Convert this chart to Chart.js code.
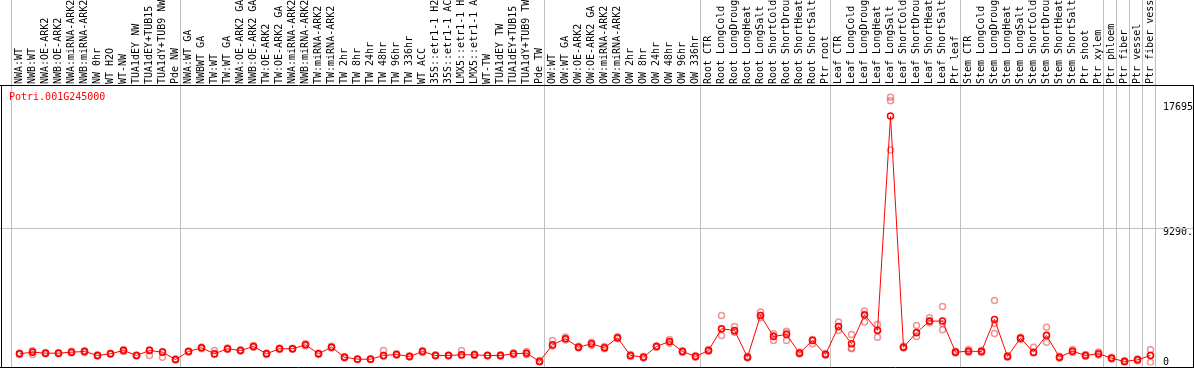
<!DOCTYPE html>
<html>
<head>
<meta charset="utf-8">
<script src="https://cdn.jsdelivr.net/npm/chart.js@4.4.1/dist/chart.umd.min.js"></script>
<style>
  html, body { margin: 0; padding: 0; background: #fff; }
  #wrap { width: 1194px; height: 370px; }
</style>
</head>
<body>
<div id="wrap"><canvas id="c" width="1194" height="370"></canvas></div>
<script>
// Potri.001G245000 — ekspresija pa paraugiem (vidējais + atkārtojumi)
const geneId = 'Potri.001G245000';

const samples = [
  'NWA:WT', 'NWB:WT', 'NWA:OE-ARK2', 'NWB:OE-ARK2', 'NWA:miRNA-ARK2', 'NWB:miRNA-ARK2',
  'NW 0hr', 'WT H2O', 'WT-NW', 'TUA1dEY NW', 'TUA1dEY+TUB15', 'TUA1dY+TUB9 NW', 'Pde NW',
  'NWA:WT GA', 'NWBWT GA', 'TW:WT', 'TW:WT GA', 'NWA:OE-ARK2 GA', 'NWB:OE-ARK2 GA',
  'TW:OE-ARK2', 'TW:OE-ARK2 GA', 'NWA:miRNA-ARK2', 'NWB:miRNA-ARK2', 'TW:miRNA-ARK2',
  'TW:miRNA-ARK2', 'TW 2hr', 'TW 8hr', 'TW 24hr', 'TW 48hr', 'TW 96hr', 'TW 336hr',
  'WT ACC', '35S::etr1-1 H2O', '35S::etr1-1 ACC', 'LMX5::etr1-1 H2O', 'LMX5::etr1-1 ACC',
  'WT-TW', 'TUA1dEY TW', 'TUA1dEY+TUB15', 'TUA1dY+TUB9 TW', 'Pde TW',
  'OW:WT', 'OW:WT GA', 'OW:OE-ARK2', 'OW:OE-ARK2 GA', 'OW:miRNA-ARK2', 'OW:miRNA-ARK2',
  'OW 2hr', 'OW 8hr', 'OW 24hr', 'OW 48hr', 'OW 96hr', 'OW 336hr',
  'Root CTR', 'Root LongCold', 'Root LongDrought', 'Root LongHeat', 'Root LongSalt',
  'Root ShortCold', 'Root ShortDrought', 'Root ShortHeat', 'Root ShortSalt', 'Ptr root',
  'Leaf CTR', 'Leaf LongCold', 'Leaf LongDrought', 'Leaf LongHeat', 'Leaf LongSalt',
  'Leaf ShortCold', 'Leaf ShortDrought', 'Leaf ShortHeat', 'Leaf ShortSalt', 'Ptr leaf',
  'Stem CTR', 'Stem LongCold', 'Stem LongDrought', 'Stem LongHeat', 'Stem LongSalt',
  'Stem ShortCold', 'Stem ShortDrought', 'Stem ShortHeat', 'Stem ShortSalt',
  'Ptr shoot', 'Ptr xylem', 'Ptr phloem', 'Ptr fiber', 'Ptr vessel', 'Ptr fiber vessel'
];

const meanExpr = [
  604, 715, 645, 645, 715, 763, 486, 604, 833, 486,
  833, 715, 208, 763, 1020, 604, 951, 833, 1110, 604,
  951, 951, 1228, 604, 1062, 368, 229, 229, 486, 555,
  416, 763, 486, 486, 534, 534, 486, 486, 604, 645,
  69, 1228, 1645, 1062, 1298, 1020, 1714, 486, 368, 1110,
  1457, 763, 416, 833, 2339, 2221, 368, 3261, 1804, 1943,
  645, 1527, 555, 2498, 1298, 3296, 2221, 17070, 1062, 2061,
  2866, 2866, 715, 784, 763, 2984, 416, 1686, 715, 1874,
  368, 784, 486, 604, 298, 69, 187, 486
];

const rep1 = [
  650, 800, 690, 680, 780, 820, 530, 640, 900, 520,
  880, 760, 240, 800, 1080, 833, 1000, 880, 1180, 650,
  1000, 990, 1300, 650, 1120, 420, 260, 260, 833, 600,
  460, 830, 530, 520, 833, 580, 520, 530, 680, 760,
  130, 1527, 1760, 1120, 1400, 1100, 1780, 560, 420, 1160,
  1600, 820, 480, 900, 3261, 2498, 430, 3492, 1991, 2172,
  720, 1600, 620, 2797, 1943, 3560, 2637, 18370, 1120, 2568,
  3100, 3886, 780, 900, 850, 4302, 480, 1750, 1062, 2450,
  440, 900, 560, 720, 360, 130, 260, 881
];

const rep2 = [
  560, 555, 600, 610, 650, 700, 440, 570, 760, 450,
  486, 368, 180, 720, 960, 560, 900, 790, 1050, 560,
  900, 910, 1160, 560, 1000, 320, 200, 200, 420, 510,
  380, 700, 450, 450, 480, 490, 450, 440, 540, 540,
  20, 1150, 1560, 1000, 1200, 950, 1650, 420, 320, 1050,
  1330, 700, 360, 780, 1874, 2100, 320, 3100, 1527, 1527,
  580, 1298, 500, 2221, 951, 2797, 1756, 14711, 1000, 1804,
  2750, 2269, 650, 700, 700, 2012, 360, 1600, 650, 1409,
  300, 700, 420, 520, 240, 10, 120, 21
];

const rep3 = [
  600, 790, 640, 650, 720, 770, 490, 600, 840, 490,
  850, 740, 210, 770, 1020, 600, 950, 830, 1100, 600,
  950, 950, 1230, 600, 1060, 370, 230, 230, 480, 550,
  420, 760, 490, 490, 530, 530, 490, 490, 600, 650,
  70, 1200, 1640, 1060, 1300, 1020, 1710, 490, 370, 1110,
  1450, 760, 420, 830, 2300, 2150, 370, 3250, 1850, 2050,
  650, 1560, 550, 2480, 1000, 3350, 2250, 18130, 1060, 2100,
  2850, 2700, 720, 780, 760, 2700, 420, 1700, 700, 1900,
  370, 780, 480, 600, 300, 70, 190, 500
];

const yTickValues = [0, 9290, 17695];
const yTickLabels = ['0', ['', '9290.'], '17695'];
// pelēkā līnija tiek vilkta aiz šiem paraugu indeksiem (-1 = pirms pirmā)
const groupBreaks = [-1, 12, 40, 52, 62, 72, 83, 84, 85, 86, 87];

const MONO = '"DejaVu Sans Mono", monospace';

const framePlugin = {
  id: 'frame',
  beforeDatasetsDraw(chart) {
    const {ctx, scales: {x, y}, chartArea, width, height} = chart;
    const half = (x.getPixelForValue(1) - x.getPixelForValue(0)) / 2;
    const top = Math.round(chartArea.top) + 0.5;
    const bot = height - 2.5;
    ctx.save();
    ctx.lineWidth = 1;
    ctx.strokeStyle = '#c0c0c0';
    ctx.beginPath();
    groupBreaks.forEach(function (i) {
      const px = Math.round(x.getPixelForValue(i) + half - 2) + 0.5;
      ctx.moveTo(px, 0);
      ctx.lineTo(px, bot);
    });
    const gy = Math.round(y.getPixelForValue(yTickValues[1])) + 0.5;
    ctx.moveTo(0, gy);
    ctx.lineTo(width, gy);
    ctx.stroke();

    ctx.strokeStyle = '#000';
    ctx.beginPath();
    ctx.moveTo(0, top); ctx.lineTo(width, top);
    ctx.moveTo(0, bot); ctx.lineTo(width, bot);
    ctx.moveTo(1.5, top); ctx.lineTo(1.5, bot);
    ctx.moveTo(width - 0.5, top); ctx.lineTo(width - 0.5, bot);
    ctx.stroke();

    ctx.fillStyle = '#ff0000';
    ctx.font = '10px ' + MONO;
    ctx.textBaseline = 'alphabetic';
    ctx.textAlign = 'left';
    ctx.fillText(geneId, 9, 100);
    ctx.restore();
  }
};

const repStyle = {
  showLine: false,
  pointRadius: 3,
  pointHoverRadius: 3,
  pointBorderWidth: 1.5,
  pointBorderColor: 'rgba(230, 60, 60, 0.55)',
  pointBackgroundColor: 'rgba(0,0,0,0)'
};

const noPad = function (s) {
  s.paddingTop = 0; s.paddingBottom = 0; s.paddingLeft = 0; s.paddingRight = 0;
};

new Chart(document.getElementById('c'), {
  type: 'line',
  data: {
    labels: samples,
    datasets: [
      {
        label: 'mean', data: meanExpr,
        borderColor: '#ff0000', borderWidth: 1, tension: 0,
        pointRadius: 3, pointHoverRadius: 3, pointBorderWidth: 1.5,
        pointBorderColor: '#ff0000', pointBackgroundColor: 'rgba(0,0,0,0)'
      },
      Object.assign({label: 'rep1', data: rep1}, repStyle),
      Object.assign({label: 'rep2', data: rep2}, repStyle),
      Object.assign({label: 'rep3', data: rep3}, repStyle)
    ]
  },
  options: {
    responsive: false,
    animation: false,
    devicePixelRatio: 1,
    layout: {padding: {left: 13, right: 0, top: 0, bottom: 2}},
    plugins: {legend: {display: false}, tooltip: {enabled: false}, title: {display: false}},
    scales: {
      x: {
        type: 'category',
        position: 'top',
        offset: true,
        afterFit: function (s) { s.height = 85; noPad(s); },
        grid: {display: false, drawTicks: false},
        border: {display: false},
        ticks: {
          autoSkip: false, minRotation: 90, maxRotation: 90,
          padding: 1, labelOffset: 12, color: '#000',
          font: {family: MONO, size: 10}
        }
      },
      y: {
        position: 'right',
        min: -208, max: 19222,
        afterFit: function (s) { s.width = 37; noPad(s); },
        afterBuildTicks: function (s) {
          s.ticks = yTickValues.map(function (v) { return {value: v}; });
        },
        grid: {display: false, drawTicks: false},
        border: {display: false},
        ticks: {
          padding: 6, color: '#000',
          font: {family: MONO, size: 10, lineHeight: 0.8},
          callback: function (v) {
            const k = yTickValues.indexOf(v);
            return k >= 0 ? yTickLabels[k] : '';
          }
        }
      }
    }
  },
  plugins: [framePlugin]
});
</script>
</body>
</html>
